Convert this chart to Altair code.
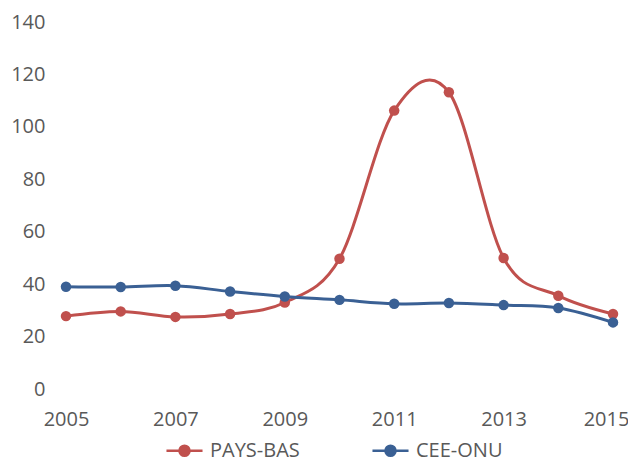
import altair as alt
import pandas as pd

years = list(range(2005, 2016))
pays_bas = [27.8, 29.6, 27.5, 28.6, 33.0, 49.7, 106.2, 113.2, 50.0, 35.6, 28.6]
cee_onu = [39.0, 38.9, 39.4, 37.2, 35.3, 34.0, 32.5, 32.8, 32.0, 30.9, 25.4]
series_names = ["PAYS-BAS", "CEE-ONU"]
colors = ["#C0504D", "#3A6094"]
x_ticks = [2005, 2007, 2009, 2011, 2013, 2015]
y_ticks = [0, 20, 40, 60, 80, 100, 120, 140]

rows = []
for y, a, b in zip(years, pays_bas, cee_onu):
    rows.append({"year": y, "serie": series_names[0], "value": a})
    rows.append({"year": y, "serie": series_names[1], "value": b})
df = pd.DataFrame(rows)

FONT = "Open Sans"
GREY = "#595959"
FS = 20

legend_symbol = "M-1,0H1M-0.28,0A0.28,0.28 0 1 1 0.28,0A0.28,0.28 0 1 1 -0.28,0Z"

color = alt.Color(
    "serie:N",
    scale=alt.Scale(domain=series_names, range=colors),
    legend=alt.Legend(
        title=None,
        orient="none",
        legendX=99,
        legendY=409,
        direction="horizontal",
        symbolType=legend_symbol,
        symbolSize=1300,
        symbolStrokeWidth=2.5,
        symbolOpacity=1,
        labelFont=FONT,
        labelFontSize=FS,
        labelColor=GREY,
        columnPadding=67,
        labelOffset=6,
        labelLimit=300,
    ),
)

x = alt.X(
    "year:Q",
    scale=alt.Scale(domain=[2005, 2015], nice=False, zero=False),
    axis=alt.Axis(
        title=None, values=x_ticks, format="d", grid=False, domain=False, ticks=False,
        labelFont=FONT, labelFontSize=FS, labelColor=GREY, labelPadding=20,
        labelFlush=False,
        labelOffset=alt.expr("datum.value == 2015 ? -7 : 0"),
    ),
)
y = alt.Y(
    "value:Q",
    scale=alt.Scale(domain=[0, 140], nice=False),
    axis=alt.Axis(
        title=None, values=y_ticks, grid=False, domain=False, ticks=False,
        labelFont=FONT, labelFontSize=FS, labelColor=GREY, labelPadding=21,
    ),
)

base = alt.Chart(df)
lines = base.mark_line(interpolate="cardinal", strokeWidth=3).encode(x=x, y=y, color=color)
points = base.mark_circle(size=110, opacity=1).encode(
    x=x, y=y,
    color=alt.Color("serie:N", scale=alt.Scale(domain=series_names, range=colors), legend=None),
)

chart = (
    alt.layer(lines, points)
    .properties(
        width=547,
        height=367,
        autosize=alt.AutoSizeParams(type="none"),
        padding={"left": 58, "top": 14, "right": 15, "bottom": 76},
    )
    .configure_view(strokeWidth=0, stroke=None)
)

chart.save("out.html", embed_options={"renderer": "svg", "actions": False})
